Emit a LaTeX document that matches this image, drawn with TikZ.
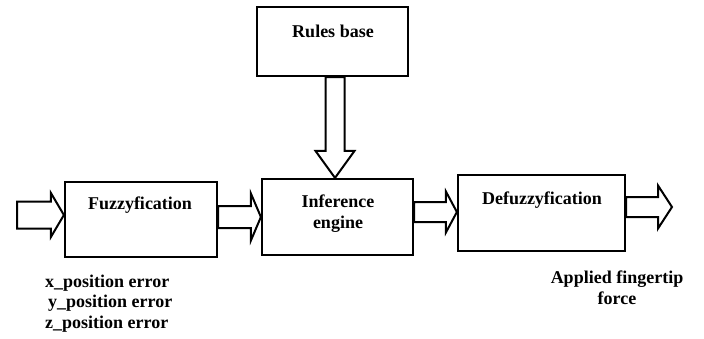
\documentclass[tikz,border=0pt]{standalone}
\usepackage{fontspec}
\setmainfont{Liberation Serif}
\usetikzlibrary{calc}

% fat block arrow: start, tip, shaft half width, head half width, head length
\newcommand{\fatarrow}[5]{%
  \coordinate (fa) at ($(#2)!#5!(#1)$);
  \draw[fatLine] ($(#1)!#3!90:(#2)$) -- ($(fa)!#3!-90:(#1)$)
    -- ($(fa)!#4!-90:(#1)$) -- (#2) -- ($(fa)!#4!90:(#1)$)
    -- ($(fa)!#3!90:(#1)$) -- ($(#1)!#3!-90:(#2)$) -- cycle;
}

\begin{document}
\begin{tikzpicture}
[x=1pt,y=-1pt,
  blockDecorate/.style={shape=rectangle,draw,line width=2.2pt,inner sep=0pt},%
  fatLine/.style={draw,line width=2pt,line join=miter},%
  textDecorate/.style={font=\bfseries\fontsize{18}{20.5}\selectfont,inner sep=0pt}]
\useasboundingbox (0,0) rectangle (704,338);
%% blocks
\node (rules) at (332.5,41.5) [blockDecorate,minimum width=151pt,minimum height=69pt] {};
\node (fuz) at (141,219.5) [blockDecorate,minimum width=152pt,minimum height=75pt] {};
\node (inf) at (337.5,217) [blockDecorate,minimum width=151pt,minimum height=76pt] {};
\node (def) at (541.5,213) [blockDecorate,minimum width=167pt,minimum height=76pt] {};
%% block texts (base = last line)
\node (rulesT) at (333,37) [textDecorate,anchor=base] {Rules base};
\node (fuzT) at (140,209) [textDecorate,anchor=base] {Fuzzyfication};
\node (infT) at (338,228) [textDecorate,anchor=base,align=center] {Inference\\engine};
\node (defT) at (542,204) [textDecorate,anchor=base] {Defuzzyfication};
%% inputs and output
\node (inT) at (45,328) [textDecorate,anchor=base west,align=left]
  {x\_position error\\\hspace{3pt}y\_position error\\z\_position error};
\node (outT) at (617,304) [textDecorate,anchor=base,align=center] {Applied fingertip\\force};
%% arrows
\coordinate (src) at (17,215);
\coordinate (src2) at (fuz.west |- src);
\coordinate (fi1) at ($(fuz.east)+(0,-2.5)$);
\coordinate (fi2) at (inf.west |- fi1);
\coordinate (ri1) at ($(rules.south)+(2.5,0)$);
\coordinate (ri2) at (inf.north -| ri1);
\coordinate (id1) at ($(inf.east)+(0,-5)$);
\coordinate (id2) at (def.west |- id1);
\coordinate (out) at (672,207);
\coordinate (out1) at (def.east |- out);
\fatarrow{src}{src2}{13.5pt}{22pt}{13pt}
\fatarrow{fi1}{fi2}{11pt}{23.5pt}{10pt}
\fatarrow{ri1}{ri2}{9.5pt}{19.5pt}{27pt}
\fatarrow{id1}{id2}{10pt}{20.5pt}{11pt}
\fatarrow{out1}{out}{10pt}{21.5pt}{14pt}
\end{tikzpicture}
\end{document}
